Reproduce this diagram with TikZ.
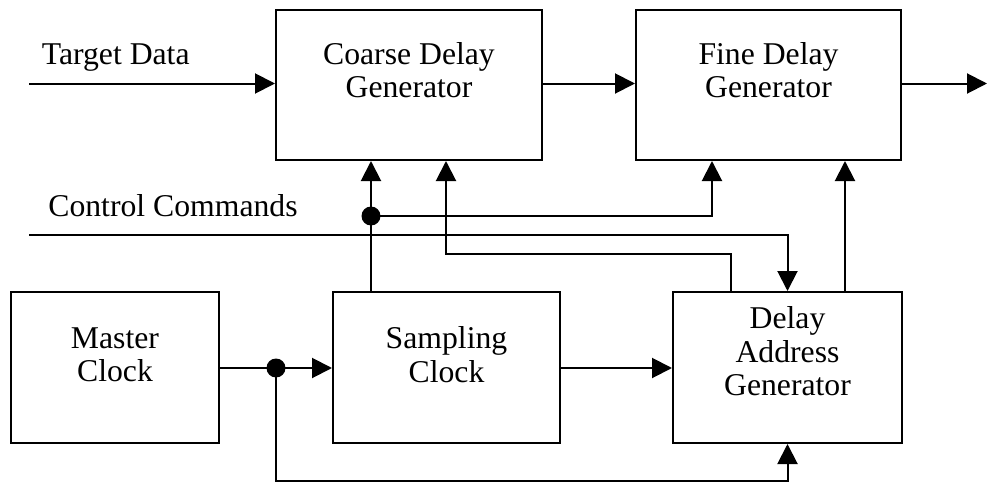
\documentclass[tikz,border=0pt]{standalone}
\usepackage{fontspec}
\setmainfont{Liberation Serif}
\usetikzlibrary{arrows.meta,calc}
\begin{document}
\begin{tikzpicture}[x=0.5pt,y=-0.5pt,
  box/.style={draw,line width=1pt,inner sep=0pt},
  txt/.style={inner sep=0pt,align=center,font=\fontsize{15.85}{16.7}\selectfont},
  conn/.style={line width=1pt},
  arr/.style={conn,-{Triangle[length=10pt,width=10pt]}},
  lbl/.style={anchor=base west,inner sep=0pt,font=\fontsize{15.85}{16.7}\selectfont},
  dotc/.style={circle,fill,inner sep=0pt,minimum size=9.5pt}]
\useasboundingbox (0,0) rectangle (987,487);
% boxes
\node[box,minimum width=133pt,minimum height=75pt] (coarse) at (409,85) {};
\node[box,minimum width=132.5pt,minimum height=75pt] (fine) at (768.5,85) {};
\node[box,minimum width=104pt,minimum height=75.5pt] (master) at (115,367.5) {};
\node[box,minimum width=113.5pt,minimum height=75.5pt] (sampling) at (446.5,367.5) {};
\node[box,minimum width=114.5pt,minimum height=75.5pt] (delay) at (787.5,367.5) {};
% box texts
\node[txt] (coarse-t) at ($(coarse.center)+(0,-15)$) {Coarse Delay\\Generator};
\node[txt] (fine-t) at ($(fine.center)+(0,-15)$) {Fine Delay\\Generator};
\node[txt] (master-t) at ($(master.center)+(0,-13)$) {Master\\Clock};
\node[txt] (sampling-t) at ($(sampling.center)+(0,-13)$) {Sampling\\Clock};
\node[txt] (delay-t) at ($(delay.center)+(0,-16)$) {Delay\\Address\\Generator};
% labels
\node[lbl] (td) at (41.5,64.3) {Target Data};
\node[lbl] (cc) at (48,216) {Control Commands};
% coordinates
\coordinate (tdin) at (29,83.5);
\coordinate (out) at (987,83.5);
\coordinate (ccin) at (29,235);
\coordinate (j1) at (371,216);
\coordinate (j2) at (276,368);
\coordinate (fb1) at (446,254);
\coordinate (fbx) at (730.7,254);
\coordinate (fx2) at (845,254);
\coordinate (fx1) at (712,216);
\coordinate (bot) at (276,481);
% connectors
\draw[arr] (tdin) -- (tdin -| coarse.west);
\draw[arr] (coarse.east |- tdin) -- (fine.west |- tdin);
\draw[arr] (fine.east |- tdin) -- (out);
\draw[arr] (j1 |- sampling.north) -- (j1 |- coarse.south);
\draw[arr] (j1) -| (fx1 |- fine.south);
\draw[arr] (ccin) -| (delay.north);
\draw[arr] (fbx |- delay.north) |- (fb1) -- (fb1 |- coarse.south);
\draw[arr] (fx2 |- delay.north) -- (fx2 |- fine.south);
\draw[arr] (master.east |- j2) -- (sampling.west |- j2);
\draw[arr] (j2) -- (bot) -| (delay.south);
\draw[arr] (sampling.east |- j2) -- (delay.west |- j2);
\node[dotc] (d1) at (j1) {};
\node[dotc] (d2) at (j2) {};
\end{tikzpicture}
\end{document}
